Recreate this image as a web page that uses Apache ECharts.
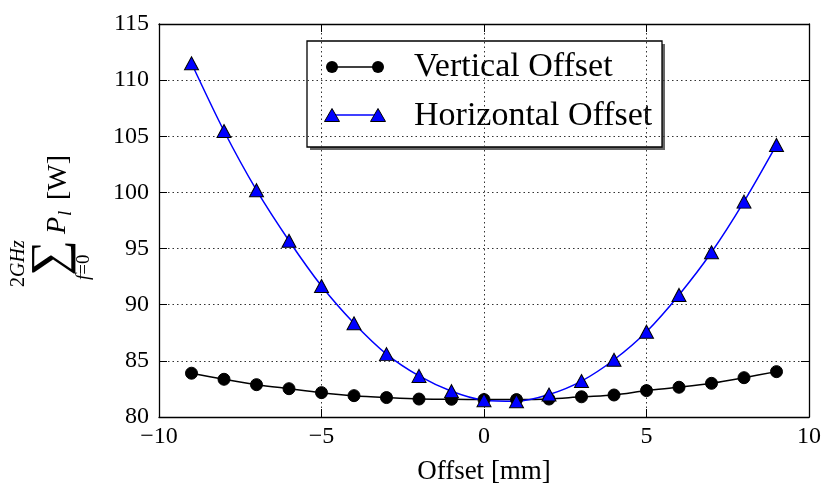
<!DOCTYPE html>
<html>
<head>
<meta charset="utf-8">
<script src="https://cdn.jsdelivr.net/npm/echarts@6/dist/echarts.min.js"></script>
<style>html,body{margin:0;padding:0;background:#fff}#c{width:823px;height:486px}</style>
</head>
<body>
<div id="c"></div>
<script>
const offsets = [-9,-8,-7,-6,-5,-4,-3,-2,-1,0,1,2,3,4,5,6,7,8,9];
const verticalOffset = [83.9,83.36,82.88,82.52,82.17,81.9,81.73,81.6,81.58,81.55,81.55,81.6,81.8,81.96,82.35,82.65,83.0,83.5,84.04];
const horizontalOffset = [111.5,105.47,100.2,95.7,91.67,88.35,85.6,83.66,82.3,81.5,81.4,82.0,83.2,85.1,87.6,90.87,94.67,99.18,104.23];
const seriesNames = ['Vertical Offset','Horizontal Offset'];
const xTicks = {min:-10,max:10,interval:5};
const yTicks = {min:80,max:115,interval:5};

const FONT = 'Liberation Serif';
const chart = echarts.init(document.getElementById('c'));
const gridLine = {show:true, lineStyle:{color:'#333', width:1, type:[1.5,3]}};
const axisLine = {show:true, onZero:false, lineStyle:{color:'#000', width:1.3}};
const tick = {show:true, inside:true, length:8, lineStyle:{color:'#000', width:1}};

function pairs(ys){ return offsets.map((x,i)=>[x, ys[i]]); }

chart.setOption({
  animation:false,
  backgroundColor:'#fff',
  grid:{left:159, right:14, top:24, bottom:69, containLabel:false, outerBoundsMode:'none'},
  xAxis:[
    {type:'value', min:xTicks.min, max:xTicks.max, interval:xTicks.interval, position:'bottom',
     axisLine, axisTick:tick, splitLine:gridLine,
     axisLabel:{color:'#000', fontFamily:FONT, fontSize:24, margin:8,
       formatter:v=>String(v).replace('-','\u2212')},
     name:'Offset [mm]', nameLocation:'middle', nameGap:41,
     nameTextStyle:{color:'#000', fontFamily:FONT, fontSize:27}},
    {type:'value', min:xTicks.min, max:xTicks.max, interval:xTicks.interval, position:'top',
     axisLine, axisTick:tick, splitLine:{show:false}, axisLabel:{show:false}}
  ],
  yAxis:[
    {type:'value', min:yTicks.min, max:yTicks.max, interval:yTicks.interval, position:'left',
     axisLine, axisTick:tick, splitLine:gridLine,
     axisLabel:{color:'#000', fontFamily:FONT, fontSize:24, margin:10}},
    {type:'value', min:yTicks.min, max:yTicks.max, interval:yTicks.interval, position:'right',
     axisLine, axisTick:tick, splitLine:{show:false}, axisLabel:{show:false}}
  ],
  series:[
    {name:seriesNames[0], type:'line', smooth:0.3, data:pairs(verticalOffset),
     symbol:'circle', symbolSize:12,
     lineStyle:{color:'#000', width:1.5}, itemStyle:{color:'#000', borderColor:'#000', borderWidth:1}},
    {name:seriesNames[1], type:'line', smooth:0.3, data:pairs(horizontalOffset),
     symbol:'triangle', symbolSize:[14,13],
     lineStyle:{color:'#0000ff', width:1.5}, itemStyle:{color:'#0000ff', borderColor:'#000', borderWidth:1}}
  ],
  graphic:[
    // legend
    {type:'group', z:100, children:[
      {type:'rect', shape:{x:310, y:44, width:355, height:106}, style:{fill:'#666'}},
      {type:'rect', shape:{x:307, y:41, width:355, height:106}, style:{fill:'#fff', stroke:'#000', lineWidth:1.3}},
      {type:'line', shape:{x1:332, y1:67, x2:378, y2:67}, style:{stroke:'#000', lineWidth:1.5}},
      {type:'circle', shape:{cx:332, cy:67, r:6}, style:{fill:'#000'}},
      {type:'circle', shape:{cx:378, cy:67, r:6}, style:{fill:'#000'}},
      {type:'text', style:{x:414, y:67, text:seriesNames[0], font:'34px "Liberation Serif"', fill:'#000', textVerticalAlign:'middle'}},
      {type:'line', shape:{x1:332, y1:115, x2:378, y2:115}, style:{stroke:'#0000ff', lineWidth:1.5}},
      {type:'polygon', shape:{points:[[332,108.5],[324.5,121.5],[339.5,121.5]]}, style:{fill:'#0000ff', stroke:'#000', lineWidth:1}},
      {type:'polygon', shape:{points:[[378,108.5],[370.5,121.5],[385.5,121.5]]}, style:{fill:'#0000ff', stroke:'#000', lineWidth:1}},
      {type:'text', style:{x:414, y:116, text:seriesNames[1], font:'34px "Liberation Serif"', fill:'#000', textVerticalAlign:'middle'}}
    ]},
    // y axis label (rotated)
    {type:'group', x:52, y:287, rotation:Math.PI/2, children:[
      {type:'text', x:0, y:-33, style:{text:'{r|2}{i|GHz}', textVerticalAlign:'middle', rich:{
        r:{fontFamily:FONT, fontSize:20, fill:'#000'}, i:{fontFamily:FONT, fontStyle:'italic', fontSize:20, fill:'#000'}}}},
      {type:'text', x:29, y:0, style:{text:'\u2211', fontFamily:FONT, fontSize:50, fill:'#000', textAlign:'center', textVerticalAlign:'middle'}},
      {type:'text', x:7, y:32, style:{text:'{i|f}{r|=0}', textVerticalAlign:'middle', rich:{
        r:{fontFamily:FONT, fontSize:19, fill:'#000'}, i:{fontFamily:FONT, fontStyle:'italic', fontSize:19, fill:'#000'}}}},
      {type:'text', x:53, y:6, style:{text:'P', fontFamily:FONT, fontStyle:'italic', fontSize:28, fill:'#000', textVerticalAlign:'middle'}},
      {type:'text', x:71, y:14, style:{text:'l', fontFamily:FONT, fontStyle:'italic', fontSize:19, fill:'#000', textVerticalAlign:'middle'}},
      {type:'text', x:87, y:7, style:{text:'[W]', fontFamily:FONT, fontSize:28, fill:'#000', textVerticalAlign:'middle'}}
    ]}
  ]
});
</script>
</body>
</html>
